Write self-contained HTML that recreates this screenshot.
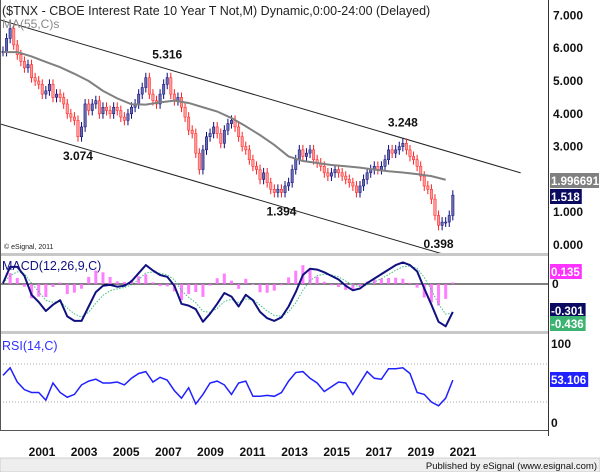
<!DOCTYPE html>
<html><head><meta charset="utf-8">
<style>
html,body{margin:0;padding:0;background:#fff;}
svg{display:block;font-family:"Liberation Sans",Arial,sans-serif;}
</style></head>
<body>
<svg id="chart" width="600" height="472" viewBox="0 0 600 472" xmlns="http://www.w3.org/2000/svg">
<rect x="0" y="0" width="600" height="472" fill="#fff"/>
<g id="main"></g>
<g id="macd"></g>
<g id="rsi"></g>
<g id="frame">
  <line x1="548.5" y1="0" x2="548.5" y2="436" stroke="#333" stroke-width="1"/>
  <rect x="0" y="253" width="548" height="3" fill="#c8c8c8"/>
  <rect x="0" y="331" width="548" height="3" fill="#c8c8c8"/>
  <line x1="0" y1="430.5" x2="548" y2="430.5" stroke="#555"/>
  <line x1="0.5" y1="0" x2="0.5" y2="431" stroke="#555"/>
</g>
<g font-size="12" font-weight="bold" fill="#111" text-anchor="middle" id="xaxis"></g>
<rect x="0" y="458" width="600" height="14" fill="#eeeeee" stroke="#aaa" stroke-width="0.5"/>
<text x="597" y="469" font-size="9.5" text-anchor="end" fill="#111">Published by eSignal (www.esignal.com)</text>
<text x="2" y="15" font-size="12.5" fill="#222">($TNX - CBOE Interest Rate 10 Year T Not,M) Dynamic,0:00-24:00 (Delayed)</text>
<text x="2" y="28" font-size="12" fill="#888">MA(55,C)s</text>
</svg>
<script>
const closes=[5.9,6.3,6.6,6.1,5.8,5.6,5.4,5.5,5.1,5.0,4.9,4.6,4.7,4.9,4.5,4.6,4.5,4.3,4.0,3.9,3.8,3.3,3.6,4.3,4.1,4.3,4.4,4.0,4.2,4.1,4.0,4.2,4.1,3.9,3.8,4.0,4.2,4.3,4.6,4.8,5.1,4.6,4.4,4.3,4.6,4.9,5.1,4.6,4.4,4.5,4.2,3.9,3.5,3.4,2.8,2.3,2.9,3.3,3.4,3.6,3.4,3.1,3.5,3.7,3.8,3.6,3.3,3.0,2.9,2.6,2.4,2.3,2.0,2.2,1.9,1.7,1.6,1.7,1.6,1.8,1.9,2.3,2.6,2.9,2.7,2.8,2.9,2.6,2.5,2.4,2.2,2.1,2.2,2.3,2.2,2.1,2.0,1.9,1.8,1.6,1.8,2.0,2.2,2.3,2.4,2.3,2.4,2.6,2.9,2.8,2.9,3.0,3.1,2.9,2.7,2.6,2.4,2.1,1.8,1.7,1.4,0.9,0.6,0.7,0.7,0.9,1.52];
const maValues=[5.88,5.88,5.75,5.58,5.42,5.22,5.0,4.7,4.47,4.29,4.28,4.35,4.40,4.33,4.2,4.07,3.87,3.62,3.35,3.05,2.7,2.56,2.5,2.44,2.40,2.36,2.3,2.25,2.21,2.16,2.1,1.99];
const macdValues=[0.01,0.19,0.19,0.09,-0.12,-0.20,-0.30,-0.23,-0.18,-0.36,-0.41,-0.41,-0.25,-0.09,-0.02,-0.01,-0.03,-0.02,0.03,0.12,0.21,0.15,0.10,0.08,-0.02,-0.22,-0.24,-0.28,-0.42,-0.33,-0.22,-0.10,-0.14,-0.25,-0.12,-0.18,-0.31,-0.38,-0.41,-0.37,-0.25,-0.09,0.10,0.17,0.16,0.13,0.09,0.05,-0.02,-0.07,-0.05,0.01,0.06,0.11,0.16,0.21,0.24,0.21,0.14,-0.05,-0.23,-0.42,-0.47,-0.31];
const rsiValues=[58,66,51,43,40,40,32,50,40,35,38,48,52,54,50,50,51,48,55,60,62,51,56,53,42,34,45,28,38,50,52,48,38,50,52,36,36,37,36,40,52,61,62,55,50,41,46,51,50,38,50,62,55,54,65,65,66,60,40,38,30,26,34,53];
const yearLabels=["2001","2003","2005","2007","2009","2011","2013","2015","2017","2019","2021"];
const priceTicks=[7,6,5,4,3,1,0];
const channelUpper=[[-1.7,6.89],[145,2.2]];
const channelLower=[[-1.7,3.72],[124,-0.3]];
const pivotLabels=[["5.316",46,5.316],["3.074",21,3.074],["1.394",78,1.394],["3.248",112,3.248],["0.398",122,0.398]];

const NS="http://www.w3.org/2000/svg";
function mk(tag,attrs,parent){const e=document.createElementNS(NS,tag);for(const k in attrs)e.setAttribute(k,attrs[k]);parent.appendChild(e);return e;}
const xI=i=>3+i*3.57;
const yP=v=>245-32.8*v;
const yM=v=>284-90*v;
const yR=v=>430.5-0.95*v;
const main=document.getElementById('main');
const macdG=document.getElementById('macd');
const rsiG=document.getElementById('rsi');

priceTicks.forEach(v=>{const t=mk('text',{x:553,y:yP(v)+4,'font-size':12,'font-weight':'bold',fill:'#111'},main);t.textContent=v.toFixed(3);

});

[channelUpper,channelLower].forEach(c=>{const l=mk('line',{x1:xI(c[0][0]),y1:yP(c[0][1]),x2:xI(c[1][0]),y2:yP(c[1][1]),stroke:'#222','stroke-width':1},main);

});

closes.forEach((c,i)=>{const o=i>0?closes[i-1]:c;const up=c>=o;
 const hi=Math.max(o,c)+0.15, lo=Math.min(o,c)-0.15;const x=xI(i);
 const col=up?'#0a0a80':'#ff2020';
 const w=mk('line',{x1:x,y1:yP(hi),x2:x,y2:yP(lo),stroke:col,'stroke-width':1},main);
 
 
 const b=mk('rect',{x:x-1.2,y:yP(Math.max(o,c)),width:2.4,height:Math.max(1,Math.abs(yP(o)-yP(c))),fill:up?'#6a6aa8':'#ff9a9a',stroke:col,'stroke-width':0.5},main);
 
 });

const maPath=mk('path',{d:maValues.map((v,k)=>(k?'L':'M')+xI(k*4)+','+yP(v)).join(''),fill:'none',stroke:'#808080','stroke-width':2},main);



pivotLabels.forEach(p=>{const t=mk('text',{x:xI(p[1]),y:p[2]>2.5&&p[0]!=="3.074"?yP(p[2])-12:yP(p[2])+16,'font-size':12,'font-weight':'bold',fill:'#111','text-anchor':'middle'},main);t.textContent=p[0];

});
const cp=mk('text',{x:4,y:249,'font-size':7,fill:'#222'},main);cp.textContent='© eSignal, 2011';



function box(g,y,txt,bg,fg,name){const r=mk('rect',{x:550,y:y-8,width:40,height:15,fill:bg},g);


const t=mk('text',{x:551,y:y+4,'font-size':11.5,'font-weight':'bold',fill:fg},g);t.textContent=txt;


r.setAttribute('width',Math.min(49,t.getComputedTextLength()+3));}
box(main,181,'1.996691','#808080','#fff','ma-value-label');
box(main,197,'1.518','#0a0a60','#fff','last-price-label');

const mz=mk('line',{x1:0,y1:yM(0),x2:548,y2:yM(0),stroke:'#000','stroke-width':1},macdG);


const sig=[];macdValues.forEach((v,k)=>{sig.push(k?sig[k-1]+0.45*(v-sig[k-1]):v);});
macdValues.forEach((v,k)=>{const h=(v-sig[k]);const y0=yM(0),y1=y0-h*110;
 const r=mk('rect',{x:xI(k*2)-1.5,y:Math.min(y0,y1),width:3,height:Math.abs(y1-y0),fill:'#ff66ff',opacity:0.85},macdG);
 
 });
const sp=mk('path',{d:sig.map((v,k)=>(k?'L':'M')+xI(k*2)+','+yM(v)).join(''),fill:'none',stroke:'#40c080','stroke-width':1,'stroke-dasharray':'1.5 1.5'},macdG);


const mp=mk('path',{d:macdValues.map((v,k)=>(k?'L':'M')+xI(k*2)+','+yM(v)).join(''),fill:'none',stroke:'#101080','stroke-width':2,'stroke-linejoin':'round'},macdG);


const mt=mk('text',{x:2,y:270,'font-size':12.5,fill:'#101080'},macdG);mt.textContent='MACD(12,26,9,C)';


box(macdG,272,'0.135','#ff33ff','#fff','macd-hist-value');
const z0=mk('text',{x:552,y:288,'font-size':12,'font-weight':'bold',fill:'#111'},macdG);z0.textContent='0';


box(macdG,311,'-0.301','#0a0a60','#fff','macd-value');
box(macdG,324,'-0.436','#3cb371','#fff','macd-signal-value');

[70,30].forEach(v=>{const l=mk('line',{x1:0,y1:yR(v),x2:548,y2:yR(v),stroke:'#aaa','stroke-dasharray':'1 2'},rsiG);

});
const rp=mk('path',{d:rsiValues.map((v,k)=>(k?'L':'M')+xI(k*2)+','+yR(v)).join(''),fill:'none',stroke:'#2020ff','stroke-width':1.5},rsiG);


const rt=mk('text',{x:2,y:350,'font-size':12.5,fill:'#3030ff'},rsiG);rt.textContent='RSI(14,C)';


[["100",348],["0",427]].forEach(a=>{const t=mk('text',{x:551,y:a[1],'font-size':12,'font-weight':'bold',fill:'#111'},rsiG);t.textContent=a[0];

});
box(rsiG,380,'53.106','#2020ff','#fff','rsi-value');

const xa=document.getElementById('xaxis');
yearLabels.forEach((y,i)=>{const t=mk('text',{x:42+i*42.1,y:456},xa);t.textContent=y;

});
</script>
</body></html>
